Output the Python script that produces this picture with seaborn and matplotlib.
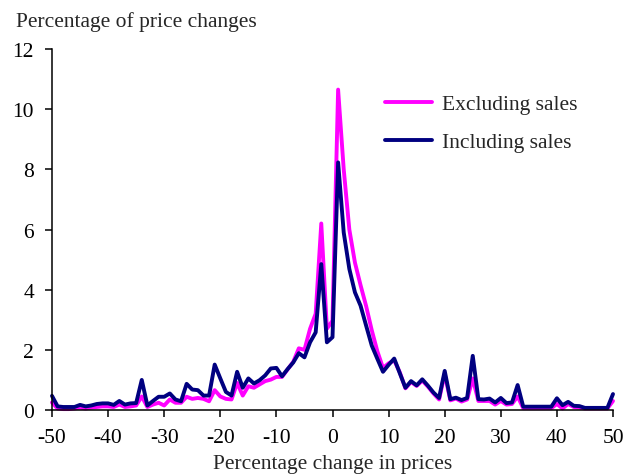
import pandas as pd
import matplotlib
matplotlib.use("Agg")
import matplotlib.pyplot as plt
import seaborn as sns

# percentage change in prices (categories)
change = list(range(-50, 51))

# share of price changes
excluding = [
    0.25, 0.05, 0.03, 0.03, 0.05, 0.08, 0.05, 0.08, 0.10, 0.12,   # -50..-41
    0.12, 0.10, 0.18, 0.10, 0.12, 0.15, 0.45, 0.10, 0.18, 0.24,   # -40..-31
    0.15, 0.35, 0.24, 0.24, 0.44, 0.37, 0.40, 0.37, 0.29, 0.66,   # -30..-21
    0.45, 0.37, 0.35, 0.90, 0.48, 0.79, 0.74, 0.85, 0.96, 1.01,   # -20..-11
    1.10, 1.10, 1.35, 1.60, 2.05, 2.00, 2.70, 3.20, 6.20, 2.70,   # -10..-1
    2.97,                                                         # 0
    10.65, 8.00, 6.00, 4.90, 4.15, 3.45, 2.65, 1.95, 1.40, 1.55,  # 1..10
    1.65, 1.25, 0.72, 0.93, 0.80, 0.98, 0.78, 0.55, 0.35, 1.20,   # 11..20
    0.32, 0.38, 0.28, 0.35, 1.05, 0.30, 0.30, 0.30, 0.18, 0.30,   # 21..30
    0.18, 0.20, 0.45, 0.06, 0.06, 0.06, 0.06, 0.06, 0.06, 0.20,   # 31..40
    0.05, 0.20, 0.10, 0.08, 0.05, 0.05, 0.05, 0.05, 0.05, 0.30,   # 41..50
]
including = [
    0.47, 0.12, 0.10, 0.10, 0.10, 0.17, 0.12, 0.15, 0.20, 0.22,   # -50..-41
    0.22, 0.17, 0.30, 0.18, 0.22, 0.23, 1.00, 0.15, 0.30, 0.44,   # -40..-31
    0.44, 0.55, 0.35, 0.29, 0.87, 0.68, 0.66, 0.48, 0.48, 1.51,   # -30..-21
    1.05, 0.60, 0.48, 1.27, 0.74, 1.05, 0.88, 0.99, 1.15, 1.38,   # -20..-11
    1.40, 1.12, 1.36, 1.58, 1.89, 1.75, 2.25, 2.58, 4.85, 2.25,   # -10..-1
    2.42,                                                         # 0
    8.23, 5.90, 4.69, 3.91, 3.47, 2.80, 2.14, 1.70, 1.27, 1.50,   # 1..10
    1.71, 1.22, 0.74, 0.96, 0.82, 1.02, 0.81, 0.58, 0.40, 1.30,   # 11..20
    0.36, 0.41, 0.33, 0.40, 1.80, 0.36, 0.35, 0.38, 0.25, 0.40,   # 21..30
    0.23, 0.25, 0.83, 0.11, 0.11, 0.11, 0.11, 0.11, 0.11, 0.39,   # 31..40
    0.16, 0.27, 0.14, 0.13, 0.07, 0.07, 0.07, 0.07, 0.07, 0.53,   # 41..50
]
series_names = ["Excluding sales", "Including sales"]
x_ticks = [-50, -40, -30, -20, -10, 0, 10, 20, 30, 40, 50]
y_ticks = [0, 2, 4, 6, 8, 10, 12]

df = pd.concat([
    pd.DataFrame({"change": change, "share": excluding, "series": series_names[0]}),
    pd.DataFrame({"change": change, "share": including, "series": series_names[1]}),
])

sns.set_style("white")
plt.rcParams["font.family"] = ["Liberation Serif", "DejaVu Serif"]
plt.rcParams["axes.unicode_minus"] = False
fs = 15.5

fig = plt.figure(figsize=(6.23, 4.77), dpi=100)
ax = fig.add_axes([52 / 623, 66 / 477, 561 / 623, 361 / 477])

sns.lineplot(data=df, x="change", y="share", hue="series", hue_order=series_names,
             palette={"Excluding sales": "#FF00FF", "Including sales": "#000080"},
             linewidth=2.8, ax=ax, legend=True)
for ln in ax.lines:
    ln.set_clip_on(False)

ax.set_xlim(-50, 50)
ax.set_ylim(0, 12)
ax.set_xticks(x_ticks)
ax.set_yticks(y_ticks)
ax.tick_params(axis="both", direction="out", length=5, width=1.1, pad=8,
               labelsize=fs, colors="black", bottom=True, left=True)
for side in ["top", "right"]:
    ax.spines[side].set_visible(False)
for side in ["left", "bottom"]:
    ax.spines[side].set_color("black")
    ax.spines[side].set_linewidth(1.1)

ax.set_ylabel("")
ax.set_xlabel("Percentage change in prices", fontsize=fs)
ax.xaxis.set_label_coords(0.5, -0.147)
ax.xaxis.label.set_va("center")
fig.text(16 / 623, 1 - 22 / 477, "Percentage of price changes", fontsize=fs,
         ha="left", va="center")

ax.legend(frameon=False, fontsize=fs, loc="upper left",
          bbox_to_anchor=(385 / 623, 1 - 95 / 477), bbox_transform=fig.transFigure,
          borderpad=0, borderaxespad=0, handlelength=2.2, handletextpad=0.45,
          labelspacing=0.85)

fig.savefig("out.png", dpi=100)
